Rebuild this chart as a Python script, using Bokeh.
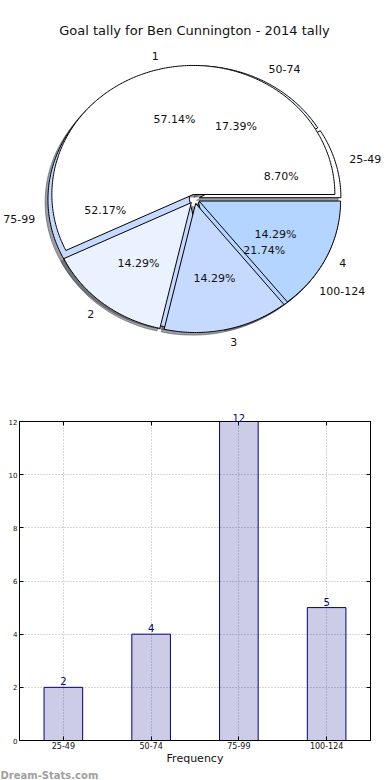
import numpy as np
from bokeh.plotting import figure
from bokeh.models import (ColumnDataSource, Range1d, FactorRange, Label, Title,
                          SingleIntervalTicker, LinearAxis, CategoricalAxis)
from bokeh.core.properties import value
from bokeh.embed import file_html
from bokeh.resources import INLINE

# ---------------- data ----------------
title_text = "Goal tally for Ben Cunnington - 2014 tally"
range_labels = ["25-49", "50-74", "75-99", "100-124"]
range_counts = [2, 4, 12, 5]
goal_labels = ["1", "2", "3", "4"]
goal_counts = [4, 1, 1, 1]
y_max = 12
x_axis_title = "Frequency"
watermark_text = "Dream-Stats.com"

# ---------------- style ----------------
FONT = "DejaVu Sans"
wedge_colors = ["#ffffff", "#ebf2ff", "#c6d9ff", "#b4d5ff"]
EXPLODE = 0.036
SHADOW_OFF = 0.02
BAR_W, BAR_L, BAR_R = 390, 19, 20


def shade(hex_color, k=0.3):
    h = hex_color.lstrip("#")
    r, g, b = (int(h[i:i + 2], 16) for i in (0, 2, 4))
    return "#%02x%02x%02x" % (int(r * k), int(g * k), int(b * k))


def pie_geometry(counts, labels, colors, explode):
    counts = np.asarray(counts, dtype=float)
    frac = counts / counts.sum()
    edges = np.concatenate([[0.0], np.cumsum(frac)]) * 2 * np.pi
    wx, wy, sx, sy, fills, shades = [], [], [], [], [], []
    lx, ly, la, px, py, pt = [], [], [], [], [], []
    for i in range(len(counts)):
        t1, t2 = edges[i], edges[i + 1]
        mid = 0.5 * (t1 + t2)
        ox, oy = explode * np.cos(mid), explode * np.sin(mid)
        t = np.linspace(t1, t2, max(int((t2 - t1) * 80), 10))
        xs = np.concatenate([[ox], ox + np.cos(t)])
        ys = np.concatenate([[oy], oy + np.sin(t)])
        wx.append(list(xs)); wy.append(list(ys))
        sx.append(list(xs - SHADOW_OFF)); sy.append(list(ys - SHADOW_OFF))
        c = colors[i % len(colors)]
        fills.append(c); shades.append(shade(c))
        xt = ox + 1.1 * np.cos(mid)
        lx.append(xt); ly.append(oy + 1.1 * np.sin(mid))
        la.append("left" if xt > 0 else "right")
        px.append(ox + 0.6 * np.cos(mid)); py.append(oy + 0.6 * np.sin(mid))
        pt.append("%1.2f%%" % (100 * frac[i]))
    wedges = ColumnDataSource(dict(xs=wx, ys=wy, fill=fills))
    shadows = ColumnDataSource(dict(xs=sx, ys=sy, fill=shades))
    labs = ColumnDataSource(dict(x=lx, y=ly, text=list(labels), align=la))
    pcts = ColumnDataSource(dict(x=px, y=py, text=pt))
    return wedges, shadows, labs, pcts


# ---------------- pie figure ----------------
pie = figure(width=390, height=384, output_backend="svg", toolbar_location=None,
             x_range=Range1d(-1.3710, 1.3852), y_range=Range1d(-1.4380, 1.5388),
             x_axis_location=None, y_axis_location=None, min_border=0,
             outline_line_color=None)
pie.grid.visible = False

wA, sA, lA, pA = pie_geometry(range_counts, range_labels, wedge_colors, EXPLODE)
wB, sB, lB, pB = pie_geometry(goal_counts, goal_labels, wedge_colors, EXPLODE)

for s in (sA, sB):
    pie.patches("xs", "ys", source=s, fill_color="fill", fill_alpha=0.5,
                line_color="fill", line_alpha=0.5, line_width=1)
for w in (wA, wB):
    pie.patches("xs", "ys", source=w, fill_color="fill", line_color="black",
                line_width=1)
for l in (lA, lB):
    pie.text("x", "y", text="text", source=l, text_align="align",
             text_baseline="middle", text_font=value(FONT),
             text_font_size=value("11px"), text_color="#111111")
for pc in (pA, pB):
    pie.text("x", "y", text="text", source=pc, text_align="center",
             text_baseline="middle", text_font=value(FONT),
             text_font_size=value("11px"), text_color="#111111")

pie.add_layout(Label(x=194, y=354, x_units="screen", y_units="screen",
                     text=title_text, text_align="center", text_baseline="middle",
                     text_font=FONT, text_font_size="13px", text_color="#111111"))

# ---------------- bar figure ----------------
bar = figure(width=BAR_W, height=396, output_backend="svg", toolbar_location=None,
             x_range=FactorRange(*range_labels), y_range=Range1d(0, y_max),
             min_border_left=BAR_L, min_border_right=BAR_R, min_border_top=37,
             min_border_bottom=40, outline_line_color="black")

bsrc = ColumnDataSource(dict(x=range_labels, top=range_counts))
bar.vbar(x="x", top="top", width=0.44, source=bsrc, fill_color="navy",
         fill_alpha=0.2, line_color="navy", line_width=1)

bar.yaxis.ticker = SingleIntervalTicker(interval=2)
for ax in (bar.xaxis, bar.yaxis):
    ax.major_tick_in = 4
    ax.major_tick_out = 0
    ax.minor_tick_in = 0
    ax.minor_tick_out = 0
    ax.major_label_text_font = FONT
    ax.major_label_standoff = 1
    ax.axis_line_color = "black"
    ax.major_tick_line_color = "black"
bar.xaxis.major_label_text_font_size = "8px"
bar.yaxis.major_label_text_font_size = "7px"
bar.yaxis.major_label_standoff = 2
bar.xaxis.major_label_text_color = "#111111"
bar.yaxis.major_label_text_color = "#111111"
bar.xaxis.axis_label = x_axis_title
bar.xaxis.axis_label_text_font = FONT
bar.xaxis.axis_label_text_font_size = "11px"
bar.xaxis.axis_label_text_font_style = "normal"
bar.xaxis.axis_label_text_color = "#111111"
bar.xaxis.axis_label_standoff = 0

right_ax = LinearAxis(ticker=SingleIntervalTicker(interval=2), major_tick_in=4,
                      major_tick_out=0, minor_tick_in=0, minor_tick_out=0,
                      major_label_text_font_size="0px", major_label_standoff=0)
top_ax = CategoricalAxis(major_tick_in=4, major_tick_out=0,
                         major_label_text_font_size="0px", major_label_standoff=0)
bar.add_layout(right_ax, "right")
bar.add_layout(top_ax, "above")

# value labels: above each bar; a bar reaching the top of the frame gets its
# value in the top border (as a title aligned over the bar)
frame_w = BAR_W - BAR_L - BAR_R
n = len(range_labels)
for i, v in enumerate(range_counts):
    if v < y_max:
        bar.add_layout(Label(x=i + 0.5, y=v, y_offset=2, text=str(v),
                             text_align="center", text_baseline="bottom",
                             text_font=FONT, text_font_size="10px",
                             text_color="#000080"))
    else:
        half_w = 0.32 * 10 * len(str(v))
        bar.add_layout(Title(text=str(v), align="left", standoff=0,
                             offset=(i + 0.5) / n * frame_w - half_w,
                             text_font=FONT, text_font_size="10px",
                             text_font_style="normal", text_color="#000080"),
                       "above")

bar.grid.grid_line_color = "#b0b0b0"
bar.grid.grid_line_dash = "1 2"
bar.grid.grid_line_width = 1

bar.add_layout(Title(text=watermark_text, align="left", offset=-BAR_L, standoff=0,
                     text_font=FONT, text_font_size="10px", text_font_style="bold",
                     text_color="#a0a0a0"), "below")

open("out.html", "w").write(file_html([pie, bar], INLINE))
